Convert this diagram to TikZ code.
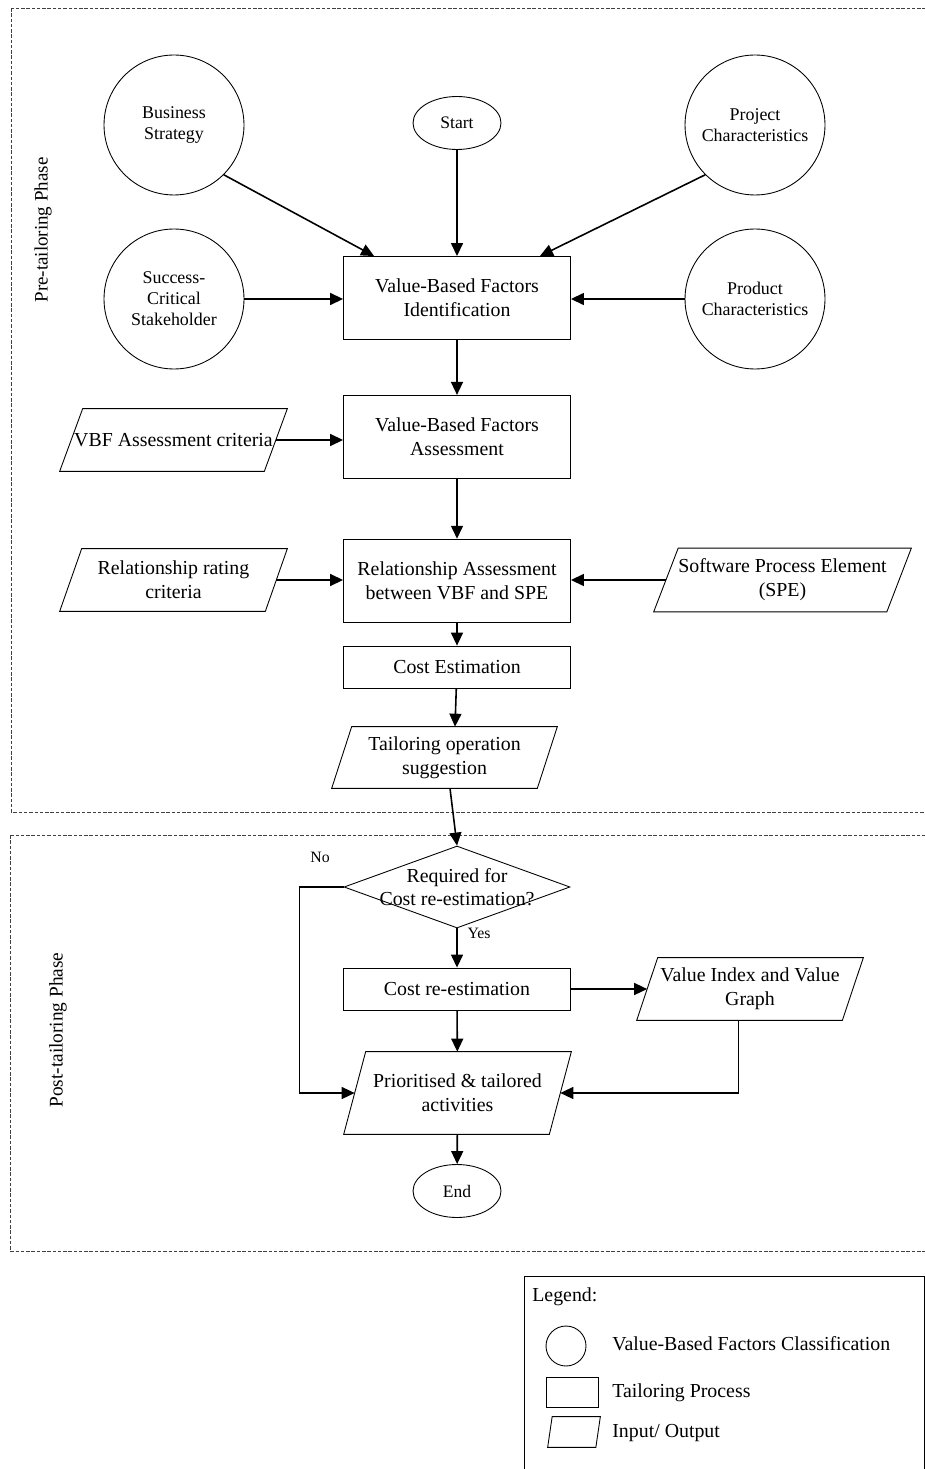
\documentclass[tikz,border=0pt]{standalone}
\usepackage{fontspec}
\setmainfont{Liberation Serif}
\usetikzlibrary{shapes,arrows.meta,positioning,calc}

\begin{document}
\begin{tikzpicture}[x=0.02cm, y=-0.02cm, >={Triangle[length=7.4pt,width=6.8pt]},
    factor/.style={draw, circle, line width=0.5pt, minimum size=2.8cm, inner sep=0pt, align=center, font=\fontsize{10.2}{11.9}\selectfont},
    process/.style={draw, rectangle, line width=0.5pt, minimum width=4.54cm, minimum height=1.66cm, align=center, font=\fontsize{11.3}{13.6}\selectfont},
    io/.style={rectangle, minimum width=4.54cm, minimum height=1.24cm, inner sep=0pt, align=center, font=\fontsize{11.3}{13.6}\selectfont,
        append after command={\pgfextra{\draw[line width=0.5pt] (\tikzlastnode.south west) -- ($(\tikzlastnode.north west)+(#1,0)$) -- (\tikzlastnode.north east) -- ($(\tikzlastnode.south east)+(-#1,0)$) -- cycle;}}},
    io/.default=22.5,
    terminal/.style={draw, ellipse, line width=0.5pt, minimum width=1.76cm, minimum height=1.06cm, inner sep=0pt, font=\fontsize{10}{12}\selectfont},
    decision/.style={draw, diamond, line width=0.5pt, minimum width=4.52cm, minimum height=1.64cm, inner sep=0pt},
    flow/.style={->, line width=0.9pt},
    phase/.style={draw=black!75, dash pattern=on 2pt off 1pt, line width=0.5pt},
    note/.style={inner sep=0pt, font=\fontsize{11.3}{13.6}\selectfont}]
    \useasboundingbox (0,0) rectangle (925,1469);

    % Phases
    \draw[phase] (11,8) rectangle (940,812);
    \draw[phase] (10,835) rectangle (940,1251);
    \node[note, rotate=90, font=\fontsize{10.8}{12}\selectfont] (pre) at (43,230) {Pre-tailoring Phase};
    \node[note, rotate=90, font=\fontsize{11}{12}\selectfont] (post) at (58,1030) {Post-tailoring Phase};

    % Value-based factors
    \node[factor] (bs) at (174,125) {Business\\Strategy};
    \node[factor] (pc) at (755,125) {Project\\Characteristics};
    \node[factor] (scs) at (174,299) {Success-\\Critical\\Stakeholder};
    \node[factor] (prc) at (755,299) {Product\\Characteristics};
    \node[terminal] (start) at (457,123) {Start};

    % Tailoring process
    \node[process] (vbfi) at (457,298) {Value-Based Factors\\Identification};
    \node[process, below=1.1cm of vbfi] (vbfa) {Value-Based Factors\\Assessment};
    \node[process, below=1.2cm of vbfa] (rel) {Relationship Assessment\\between VBF and SPE};
    \node[process, below=0.46cm of rel, minimum height=0.84cm] (cost) {Cost Estimation};

    % Inputs / outputs
    \node[io=23] (vac) at (173.5,440) {VBF Assessment criteria};
    \node[io=22] (rrc) at (173.5,580) {Relationship rating\\criteria};
    \node[io=24.5, minimum width=5.14cm, minimum height=1.26cm] (spe) at (782.5,580) {Software Process Element\\(SPE)};
    \node[io=20, minimum width=4.5cm, minimum height=1.22cm] (tos) at (444.5,757.5) {Tailoring operation\\suggestion};

    % Post-tailoring
    \node[decision] (dec) at (457,887) {};
    \node[note, align=center, font=\fontsize{11.3}{13}\selectfont] (dect) at (dec) {Required for\\Cost re-estimation?};
    \node[process, minimum height=0.84cm] (cre) at (457,989) {Cost re-estimation};
    \node[io=21, minimum width=4.52cm] (vig) at (750,989) {Value Index and Value\\Graph};
    \node[io=22, minimum height=1.64cm] (pta) at (457.5,1093) {Prioritised \& tailored\\activities};
    \node[terminal] (end) at (457,1191) {End};
    \node[note, font=\fontsize{9}{10}\selectfont] (no) at (320,857) {No};
    \node[note, font=\fontsize{9}{10}\selectfont] (yes) at (479,933) {Yes};

    % Connectors
    \draw[flow] (bs.-45) -- ($(vbfi.north west)+(31,0)$);
    \draw[flow] (start) -- (vbfi);
    \draw[flow] (pc.-135) -- ($(vbfi.north east)+(-31,0)$);
    \draw[flow] (scs) -- (scs -| vbfi.west);
    \draw[flow] (prc) -- (prc -| vbfi.east);
    \draw[flow] (vbfi) -- (vbfa);
    \draw[flow] ($(vac.east)+(-11.5,0)$) -- (vac.east -| vbfa.west);
    \draw[flow] (vbfa) -- (rel);
    \draw[flow] ($(rrc.east)+(-11,0)$) -- (rrc.east -| rel.west);
    \draw[flow] ($(spe.west)+(12.25,0)$) -- (spe.west -| rel.east);
    \draw[flow] (rel) -- (cost);
    \draw[flow] (cost) -- ($(tos.north)+(10.5,0)$);
    \draw[flow] ($(tos.south)+(5.5,0)$) -- (dec.north);
    \draw[flow] (dec) -- (cre);
    \draw[flow] (cre) -- ($(vig.west)+(10.5,0)$);
    \draw[flow] (cre) -- (pta);
    \draw[flow] (dec.west) -- ++(-44,0) |- ($(pta.west)+(11,0)$);
    \draw[flow] ($(vig.south)+(-11.5,0)$) |- ($(pta.east)+(-11,0)$);
    \draw[flow] (pta) -- (end);

    % Legend
    \draw[line width=0.5pt] (524,1276) rectangle (924,1490);
    \node[note, anchor=west] (lgtitle) at (532,1297) {Legend:};
    \node[draw, circle, line width=0.5pt, minimum size=0.8cm, inner sep=0pt] (lgfactor) at (566,1346) {};
    \node[draw, rectangle, line width=0.5pt, minimum width=1.04cm, minimum height=0.6cm, inner sep=0pt] (lgproc) at (572,1392) {};
    \node[io=4.5, minimum width=1.04cm, minimum height=0.6cm] (lgio) at (574,1432) {};
    \node[note, anchor=west] (lgfactort) at (612,1344) {Value-Based Factors Classification};
    \node[note, anchor=west] (lgproct) at (612,1393) {Tailoring Process};
    \node[note, anchor=west] (lgiot) at (612,1433) {Input/ Output};
\end{tikzpicture}
\end{document}
